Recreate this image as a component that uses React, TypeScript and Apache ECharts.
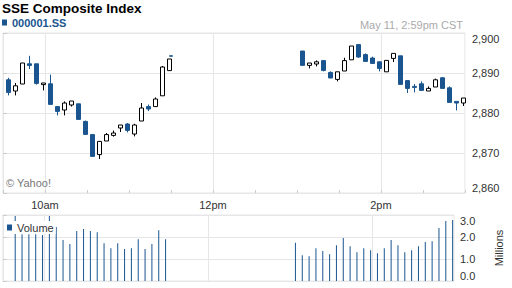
import React, { useEffect, useRef } from "react";
import * as echarts from "echarts";

// ---- data ----
const candleTimes = [
  "09:34", "09:39", "09:44", "09:49", "09:54", "09:59", "10:04", "10:09", "10:14", "10:19", "10:24", "10:29",
  "10:34", "10:39", "10:44", "10:49", "10:54", "10:59", "11:04", "11:09", "11:14", "11:19", "11:24", "11:29", "11:30",
  "13:04", "13:09", "13:14", "13:19", "13:24", "13:29", "13:34", "13:39", "13:44", "13:49", "13:54", "13:59",
  "14:04", "14:09", "14:14", "14:19", "14:24", "14:29", "14:34", "14:39", "14:44", "14:49", "14:54", "14:59",
];
const opens = [
  2888.3, 2885.5, 2887.25, 2892.3, 2892.3, 2887.1, 2887.3, 2881.6, 2880.75, 2882.0, 2882.3, 2877.9,
  2874.6, 2869.6, 2873.0, 2874.4, 2876.25, 2877.25, 2874.75, 2878.0, 2881.6, 2881.6, 2884.3, 2890.6, 2894.3,
  2895.5, 2891.9, 2892.25, 2893.1, 2890.15, 2888.4, 2890.5, 2893.3, 2897.1, 2894.6, 2893.75, 2892.8,
  2890.3, 2893.65, 2894.3, 2888.1, 2886.65, 2887.3, 2885.5, 2886.5, 2888.8, 2886.3, 2882.9, 2882.5,
];
const closes = [
  2885.15, 2886.8, 2892.5, 2891.9, 2887.4, 2887.5, 2882.15, 2880.4, 2882.5, 2883.0, 2878.4, 2874.65,
  2869.15, 2872.9, 2874.6, 2875.0, 2877.0, 2875.65, 2877.0, 2881.25, 2881.0, 2883.5, 2891.5, 2893.5, 2894.2,
  2891.9, 2892.5, 2892.8, 2890.65, 2888.75, 2890.3, 2893.1, 2896.75, 2894.0, 2892.9, 2892.4, 2891.15,
  2893.15, 2894.9, 2887.15, 2886.15, 2886.4, 2885.65, 2886.15, 2888.3, 2886.15, 2882.65, 2882.5, 2883.75,
];
const lows = [
  2884.4, 2884.4, 2887.25, 2891.0, 2887.1, 2885.65, 2882.15, 2879.4, 2879.4, 2881.6, 2878.4, 2874.65,
  2869.15, 2868.5, 2873.0, 2874.1, 2875.25, 2875.15, 2874.15, 2878.0, 2880.5, 2881.6, 2884.3, 2890.6, 2894.2,
  2891.9, 2891.15, 2891.65, 2890.4, 2888.75, 2887.9, 2890.5, 2893.3, 2893.8, 2892.9, 2892.4, 2890.4,
  2890.3, 2892.75, 2887.15, 2885.0, 2885.15, 2885.65, 2885.5, 2886.5, 2886.15, 2882.65, 2880.65, 2881.75,
];
const highs = [
  2888.8, 2887.5, 2892.5, 2894.3, 2892.3, 2887.5, 2889.6, 2881.6, 2882.9, 2883.0, 2882.3, 2878.1,
  2874.6, 2872.9, 2875.0, 2875.6, 2877.0, 2877.5, 2877.3, 2882.5, 2882.1, 2883.9, 2891.75, 2893.5, 2894.3,
  2895.5, 2892.5, 2893.15, 2893.1, 2890.4, 2890.3, 2893.8, 2896.75, 2897.1, 2894.9, 2894.1, 2892.8,
  2893.15, 2894.9, 2894.3, 2888.1, 2887.25, 2887.9, 2886.65, 2888.6, 2889.0, 2886.65, 2882.9, 2883.75,
];

const volumeTimes = [
  "09:39", "09:44", "09:49", "09:54", "09:59", "10:04", "10:09", "10:14", "10:19", "10:24", "10:29",
  "10:34", "10:39", "10:44", "10:49", "10:54", "10:59", "11:04", "11:09", "11:14", "11:19", "11:24", "11:29",
  "13:04", "13:09", "13:14", "13:19", "13:24", "13:29", "13:34", "13:39", "13:44", "13:49", "13:54", "13:59",
  "14:04", "14:09", "14:14", "14:19", "14:24", "14:29", "14:34", "14:39", "14:44", "14:49", "14:54", "14:59",
];
const volumesM = [
  2.95, 2.13, 2.13, 2.13, 2.09, 2.95, 2.45, 1.86, 1.68, 2.27, 2.36,
  2.27, 2.22, 1.72, 1.49, 1.72, 1.45, 1.49, 1.9, 1.45, 1.68, 2.31, 1.9,
  1.74, 1.17, 1.13, 1.49, 1.36, 1.22, 1.63, 1.95, 1.58, 1.31, 1.49, 1.4,
  1.26, 1.49, 1.86, 1.63, 1.31, 1.4, 1.58, 1.77, 1.81, 2.41, 2.73, 2.77,
];

const sessionStart = "09:30";
const sessionEnd = "15:00";
const timeTickTimes = ["10:00", "12:00", "14:00"];
const timeTickLabels = ["10am", "12pm", "2pm"];
const priceTicks = [2860, 2870, 2880, 2890, 2900];
const volumeTicks = [0, 1, 2, 3];

const seriesName = "000001.SS";
const titleText = "SSE Composite Index";
const stampText = "May 11, 2:59pm CST";
const creditText = "© Yahoo!";

// ---- helpers ----
const toMin = (t: string) => {
  const [h, m] = t.split(":").map(Number);
  return h * 60 + m;
};
const base = toMin(sessionStart);
const rel = (t: string) => toMin(t) - base;

const BLUE = "#1a5590";
const GRID = "#e6e6e6";
const FONT = "'Liberation Sans', Arial, sans-serif";

export default function App() {
  const ref = useRef<HTMLDivElement>(null);

  useEffect(() => {
    if (!ref.current) return;
    const chart = echarts.init(ref.current, undefined, { renderer: "svg" });

    const candleData = candleTimes.map((t, i) => [rel(t), opens[i], closes[i], lows[i], highs[i]]);
    const volData = volumeTimes.map((t, i) => [rel(t), volumesM[i]]);
    const xMax = rel(sessionEnd);
    const step = 30;
    const tickMins = timeTickTimes.map(rel);
    const vColors: string[] = [];
    for (let v = step; v <= xMax; v += step) vColors.push(tickMins.includes(v) ? GRID : "rgba(0,0,0,0)");

    const xLabel = (v: number) => {
      const idx = tickMins.indexOf(v);
      return idx >= 0 ? timeTickLabels[idx] : "";
    };

    chart.setOption({
      animation: false,
      backgroundColor: "#fff",
      textStyle: { fontFamily: FONT },
      title: [
        { text: titleText, left: 2, top: 1, padding: 0, textStyle: { fontFamily: FONT, fontSize: 13.5, fontWeight: "bold", color: "#000" } },
        { text: stampText, right: 49, top: 19, padding: 0, textStyle: { fontFamily: FONT, fontSize: 11, fontWeight: "normal", color: "#aaa" } },
        { text: creditText, left: 6, top: 177, padding: 0, textStyle: { fontFamily: FONT, fontSize: 11, fontWeight: "normal", color: "#777" } },
      ],
      legend: [
        {
          data: [seriesName], left: 2, top: 17, padding: 0, icon: "rect", itemWidth: 5, itemHeight: 6,
          textStyle: { fontFamily: FONT, fontSize: 11, fontWeight: "bold", color: BLUE },
          itemStyle: { color: BLUE, borderWidth: 0 }, selectedMode: false,
        },
        {
          data: ["Volume"], left: 6, top: 221, padding: [1, 2, 1, 1], icon: "rect", itemWidth: 5, itemHeight: 6,
          backgroundColor: "#fff",
          textStyle: { fontFamily: FONT, fontSize: 11, color: "#333" },
          itemStyle: { color: BLUE, borderWidth: 0 }, selectedMode: false,
        },
      ],
      grid: [
        { left: 2.9, right: 47.1, top: 33, height: 160, show: true, borderColor: GRID, borderWidth: 1, backgroundColor: "transparent" },
        { left: 2.9, right: 47.1, top: 215, height: 66, show: true, borderColor: GRID, borderWidth: 1, backgroundColor: "transparent" },
      ],
      xAxis: [
        {
          type: "value", gridIndex: 0, min: 0, max: xMax, interval: step,
          axisLine: { show: false },
          axisTick: { show: true, inside: true, length: 3, lineStyle: { color: "#cccccc" } },
          axisLabel: { formatter: xLabel, margin: 6, fontSize: 11, color: "#333", fontFamily: FONT },
          splitLine: { show: true, showMinLine: false, lineStyle: { color: vColors, width: 1 } },
        },
        {
          type: "value", gridIndex: 1, min: 0, max: xMax, interval: step,
          axisLine: { show: false }, axisTick: { show: false }, axisLabel: { show: false },
          splitLine: { show: true, showMinLine: false, lineStyle: { color: vColors, width: 1 } },
        },
      ],
      yAxis: [
        {
          type: "value", gridIndex: 0, position: "right",
          min: priceTicks[0], max: priceTicks[priceTicks.length - 1], interval: priceTicks[1] - priceTicks[0],
          axisLine: { show: true, lineStyle: { color: GRID } },
          axisTick: { show: true, length: 4, lineStyle: { color: "#cccccc" } },
          axisLabel: {
            margin: 7, fontSize: 11, color: "#333", fontFamily: FONT,
            formatter: (v: number) => v.toLocaleString("en-US"),
            verticalAlignMaxLabel: "top", verticalAlignMinLabel: "bottom",
          },
          splitLine: { show: true, lineStyle: { color: GRID } },
        },
        {
          type: "value", gridIndex: 1, position: "right",
          min: volumeTicks[0], max: volumeTicks[volumeTicks.length - 1], interval: volumeTicks[1] - volumeTicks[0],
          name: "Millions", nameLocation: "middle", nameRotate: 90, nameGap: 39,
          nameTextStyle: { fontFamily: FONT, fontSize: 11, color: "#333" },
          axisLine: { show: true, lineStyle: { color: GRID } },
          axisTick: { show: true, length: 4, lineStyle: { color: "#cccccc" } },
          axisLabel: {
            margin: 6, fontSize: 11, color: "#333", fontFamily: FONT,
            formatter: (v: number) => v.toFixed(1),
            verticalAlignMaxLabel: "top", verticalAlignMinLabel: "bottom",
          },
          splitLine: { show: true, lineStyle: { color: GRID } },
        },
      ],
      series: [
        {
          name: seriesName, type: "candlestick", xAxisIndex: 0, yAxisIndex: 0,
          data: candleData, encode: { x: 0, y: [1, 2, 3, 4] },
          barWidth: 4,
          itemStyle: { color: "#ffffff", color0: BLUE, borderColor: "#000000", borderColor0: BLUE, borderWidth: 1 },
        },
        {
          name: "Volume", type: "bar", xAxisIndex: 1, yAxisIndex: 1,
          data: volData, barWidth: 1,
          itemStyle: { color: BLUE },
        },
      ],
    });

    return () => chart.dispose();
  }, []);

  return <div ref={ref} style={{ position: "absolute", left: 0, top: 0, width: 512, height: 288 }} />;
}
